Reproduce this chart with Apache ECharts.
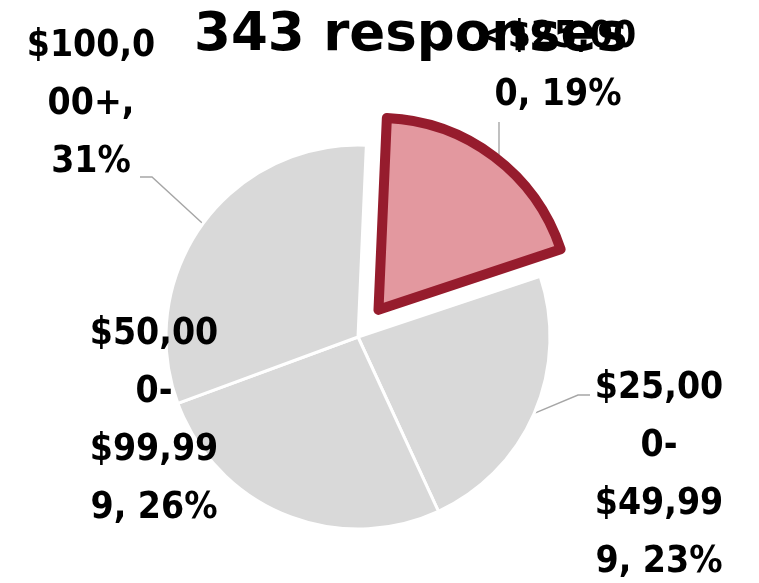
<!DOCTYPE html>
<html>
<head>
<meta charset="utf-8">
<script src="https://cdn.jsdelivr.net/npm/echarts@6/dist/echarts.min.js"></script>
<style>
  html, body { margin: 0; padding: 0; background: #ffffff; }
  #chart { width: 759px; height: 583px; }
</style>
</head>
<body>
<div id="chart"></div>
<script>
var titleText = '343 responses';
var categories = ['<$25,000', '$25,000-$49,999', '$50,000-$99,999', '$100,000+'];
var percentValues = [19, 23, 26, 31];
// Wrapped label text as it appears in the picture
var labelTexts = ['<$25,00\n0, 19%', '$25,00\n0-\n$49,99\n9, 23%', '$50,00\n0-\n$99,99\n9, 26%', '$100,0\n00+,\n31%'];

var labelCenters = [[558, 66], [659, 475], [154, 421], [91, 104]];
// leader line bends, relative to each label centre (null = no leader line)
var leaderBends = [[[-59, 56]], [[-81, -80], [-69, -80]], null, [[61, 73], [49, 73]]];
var highlightIndex = 0;

var chart = echarts.init(document.getElementById('chart'), null, { renderer: 'canvas' });

var labelFont = "'DejaVu Sans Condensed', 'DejaVu Sans', sans-serif";
var grayStyle = { color: '#d9d9d9', borderColor: '#ffffff', borderWidth: 3 };
var hiStyle = { color: '#e3989f', borderColor: '#961c2d', borderWidth: 10, borderJoin: 'round' };

var baseLabel = {
  show: true,
  position: 'outside',
  formatter: function (p) { return labelTexts[p.dataIndex]; },
  fontFamily: labelFont,
  fontWeight: 'bold',
  fontSize: 37,
  lineHeight: 58,
  color: '#000000',
  align: 'center'
};
var baseLabelLine = {
  show: true,
  length: 15,
  length2: 10,
  lineStyle: { color: '#a6a6a6', width: 1.4 }
};

// main pie: slices (the highlighted slice is exploded)
var mainData = categories.map(function (c, i) {
  var d = { name: c, value: percentValues[i] };
  if (i === highlightIndex) {
    d.selected = true;
    d.itemStyle = hiStyle;
    d.select = { itemStyle: hiStyle };
    d.label = { show: false };
    d.labelLine = { show: false };
  } else {
    d.itemStyle = grayStyle;
    if (!leaderBends[i]) d.labelLine = { show: false };
  }
  return d;
});

// overlay pie: carries the label of the exploded slice only
var overlayData = categories.map(function (c, i) {
  var d = { name: c, value: percentValues[i] };
  if (i !== highlightIndex) {
    d.label = { show: false };
    d.labelLine = { show: false };
  }
  return d;
});

function layoutFn(params) {
  var i = params.dataIndex;
  var c = labelCenters[i];
  var out = { x: c[0], y: c[1], align: 'center', verticalAlign: 'middle' };
  var bends = leaderBends[i];
  if (bends && params.labelLinePoints && params.labelLinePoints.length) {
    var p0 = params.labelLinePoints[0];
    var pts = [[p0[0], p0[1]]];
    if (i === highlightIndex) {
      // vertical leader: start straight below the bend, hidden under the slice
      pts = [[c[0] + bends[0][0], p0[1]]];
    }
    bends.forEach(function (b) { pts.push([c[0] + b[0], c[1] + b[1]]); });
    out.labelLinePoints = pts;
  }
  return out;
}

var common = {
  type: 'pie',
  center: [358, 337],
  radius: 192,
  startAngle: 87.5,
  clockwise: true,
  avoidLabelOverlap: false,
  emphasis: { disabled: true },
  label: baseLabel,
  labelLine: baseLabelLine,
  labelLayout: layoutFn
};

chart.setOption({
  animation: false,
  backgroundColor: '#ffffff',
  graphic: [{
    type: 'text',
    x: 411,
    y: 36,
    z: 10,
    style: {
      text: titleText,
      fontFamily: "'DejaVu Sans', sans-serif",
      fontWeight: 'bold',
      fontSize: 53,
      fill: '#000000',
      align: 'center',
      verticalAlign: 'middle'
    }
  }],
  series: [
    Object.assign({}, common, {
      name: 'overlay',
      z: 1,
      silent: true,
      selectedMode: false,
      itemStyle: { color: 'rgba(0,0,0,0)', borderWidth: 0 },
      data: overlayData
    }),
    Object.assign({}, common, {
      name: 'income',
      z: 2,
      selectedMode: 'single',
      selectedOffset: 34,
      data: mainData
    })
  ]
});
</script>
</body>
</html>
